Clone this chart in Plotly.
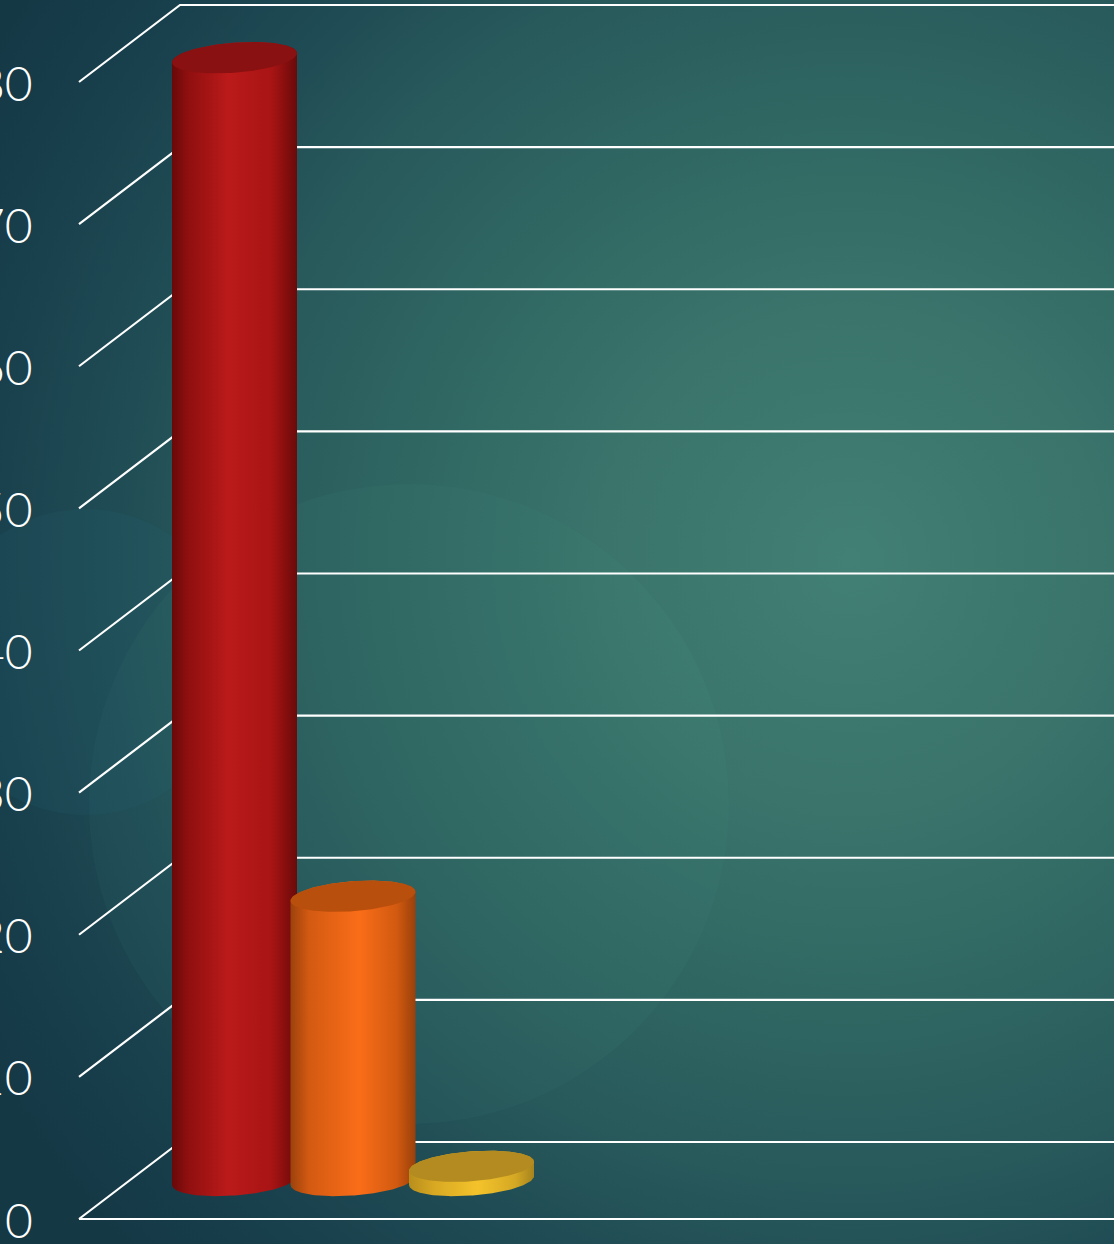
import numpy as np
import plotly.graph_objects as go

# ---------------- data ----------------
categories = ["Category 1", "Category 2", "Category 3"]
values = [79, 20, 1]
tick_values = [0, 10, 20, 30, 40, 50, 60, 70, 80]
tick_labels = ["0", "10", "20", "30", "40", "50", "60", "70", "80"]

# ---------------- styles ----------------
side_scales = [
    [[0, "#680909"], [0.12, "#8e0f0f"], [0.45, "#bb1a1a"], [0.8, "#a81414"], [1, "#6a0a0a"]],
    [[0, "#9c420c"], [0.15, "#d35a12"], [0.55, "#fa6d18"], [0.85, "#d15a10"], [1, "#9a400b"]],
    [[0, "#b88e1c"], [0.2, "#d8a823"], [0.55, "#f4c32b"], [0.85, "#d5a824"], [1, "#a6841e"]],
]
cap_colors = ["#8a1111", "#b84f0d", "#b38b20"]

W, H = 1114, 1244
PXU = 14.2125            # pixels per value unit
Y0_PX = 1219             # pixel row of value 0 (front)
FRONT_X = 79
DX = 101                 # depth offset (x units == pixels)
DY = 77 / PXU            # depth offset in value units
BASE = DY / 2            # bars stand at mid depth
BAR_X0, STEP, BAR_W = 234.5, 118.5, 125
CAP_B = 15 / PXU
TILT = 9 / 125 / PXU
GRID_W = 2.2

y_range = [-(H - Y0_PX) / PXU, Y0_PX / PXU]


def py(px):
    """pixel row -> value units (for decorations only)"""
    return (Y0_PX - px) / PXU


fig = go.Figure()

# ---------------- background ----------------
cx_bg, cy_bg = 850, py(560)
hw, hh = 1000, 1000 / PXU
fig.add_trace(go.Scatter(
    x=[cx_bg - hw, cx_bg + hw, cx_bg + hw, cx_bg - hw, cx_bg - hw],
    y=[cy_bg - hh, cy_bg - hh, cy_bg + hh, cy_bg + hh, cy_bg - hh],
    mode="lines", line=dict(width=0), fill="toself",
    fillgradient=dict(type="radial", colorscale=[
        [0, "#427f74"], [0.25, "#3a746b"], [0.45, "#2f6662"],
        [0.62, "#28595b"], [0.75, "#1f4b54"], [0.88, "#183f4c"], [1, "#153845"]]),
    hoverinfo="skip", showlegend=False))

# faint bokeh circles
t = np.linspace(0, 2 * np.pi, 200)
for (ccx, ccy, r, col) in [(409, 804, 320, "rgba(90,170,160,0.06)"),
                            (85, 662, 153, "rgba(40,120,140,0.10)")]:
    fig.add_trace(go.Scatter(
        x=ccx + r * np.cos(t), y=py(ccy) + r / PXU * np.sin(t),
        mode="lines", line=dict(width=0), fill="toself", fillcolor=col,
        hoverinfo="skip", showlegend=False))

# ---------------- grid (from tick values) ----------------
for v in tick_values:
    fig.add_trace(go.Scatter(
        x=[FRONT_X, FRONT_X + DX, W + 10],
        y=[v, v + DY, v + DY],
        mode="lines", line=dict(color="white", width=GRID_W),
        hoverinfo="skip", showlegend=False))
fig.add_trace(go.Scatter(
    x=[FRONT_X, W + 10], y=[tick_values[0], tick_values[0]],
    mode="lines", line=dict(color="white", width=GRID_W),
    hoverinfo="skip", showlegend=False))

# ---------------- cylinders ----------------
def ell(cx, cy, a, b, tt):
    x = cx + a * np.cos(tt)
    y = cy + b * np.sin(tt) + TILT * (x - cx)
    return x, y


for i, (cat, val) in enumerate(zip(categories, values)):
    cx = BAR_X0 + i * STEP
    a = BAR_W / 2
    top = BASE + val
    tl = np.linspace(np.pi, 2 * np.pi, 80)
    tu = np.linspace(0, np.pi, 80)
    bx, by = ell(cx, BASE, a, CAP_B, tl)
    tx, ty = ell(cx, top, a, CAP_B, tu)
    fig.add_trace(go.Scatter(
        x=np.concatenate([bx, tx, bx[:1]]), y=np.concatenate([by, ty, by[:1]]),
        mode="lines", line=dict(width=0), fill="toself",
        fillgradient=dict(type="horizontal", colorscale=side_scales[i],
                          start=cx - a, stop=cx + a),
        name=cat, hoverinfo="skip", showlegend=False))
    ta = np.linspace(0, 2 * np.pi, 160)
    ex, ey = ell(cx, top, a, CAP_B, ta)
    fig.add_trace(go.Scatter(
        x=ex, y=ey, mode="lines", line=dict(width=0), fill="toself",
        fillcolor=cap_colors[i], name=cat,
        hovertemplate=f"{cat}: {val}<extra></extra>", showlegend=False))

# ---------------- tick labels ----------------
for v, lab in zip(tick_values, tick_labels):
    fig.add_annotation(x=35, y=v, xref="x", yref="y", text=lab,
                       showarrow=False, xanchor="right", yanchor="middle",
                       font=dict(family="Lato", size=48, color="white", weight=300))

fig.update_layout(
    width=W, height=H, margin=dict(l=0, r=0, t=0, b=0),
    paper_bgcolor="#1a4652", plot_bgcolor="#1a4652",
    xaxis=dict(range=[0, W], visible=False, fixedrange=True),
    yaxis=dict(range=y_range, visible=False, fixedrange=True),
    showlegend=False,
)

fig.write_html("out.html", config={"displayModeBar": False},
               post_script="document.body.style.margin='0px';")
